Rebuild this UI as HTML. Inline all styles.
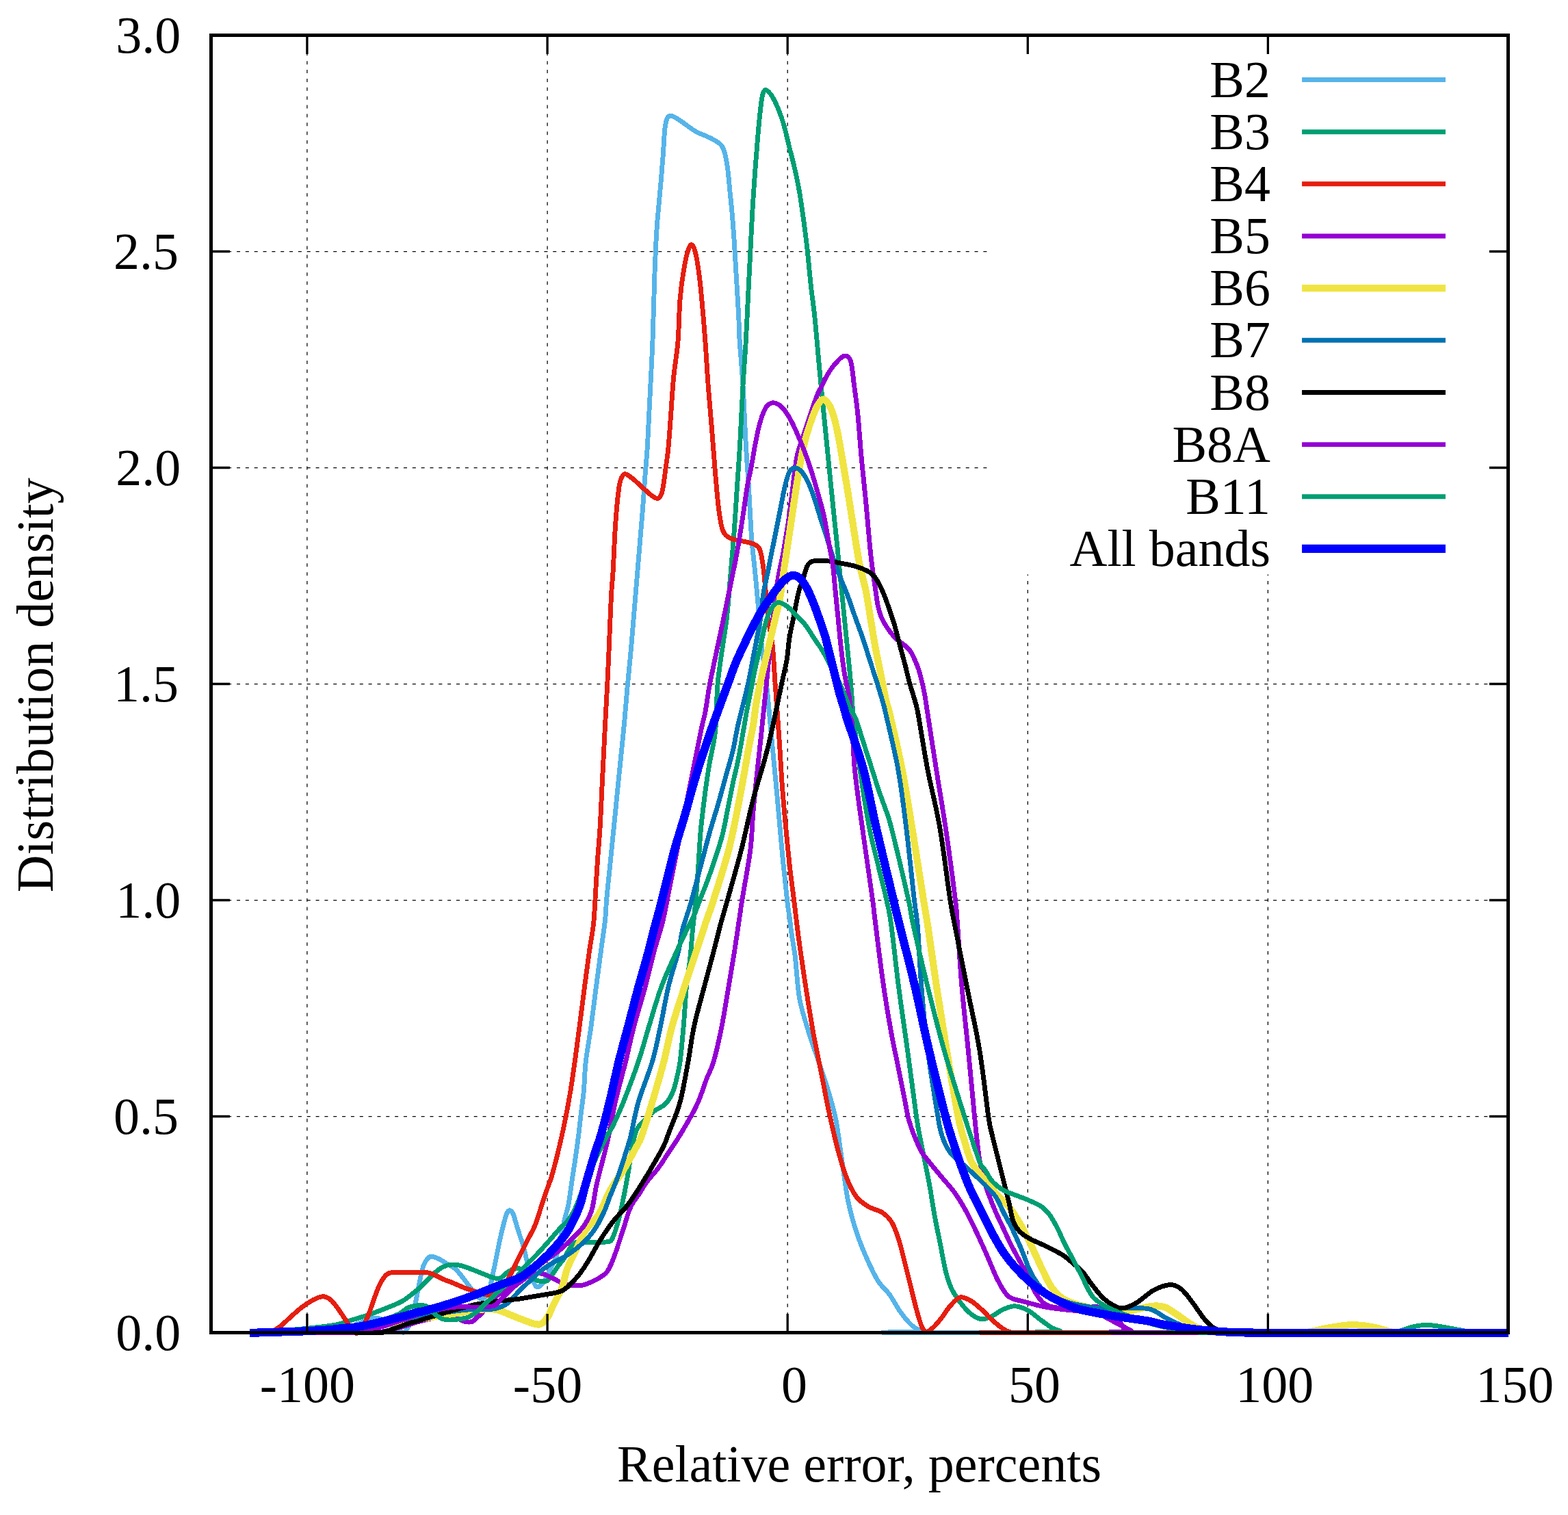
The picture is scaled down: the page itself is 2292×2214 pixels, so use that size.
<!DOCTYPE html>
<html><head><meta charset="utf-8"><title>Distribution density</title>
<style>
html,body{margin:0;padding:0;background:#fff;}
svg{display:block;}
.t{font-family:"Liberation Serif","Times New Roman",serif;font-size:76px;fill:#000;}
</style></head><body>
<svg xmlns="http://www.w3.org/2000/svg" width="2292" height="2214" viewBox="0 0 2292 2214">
<rect width="2292" height="2214" fill="#fff"/>
<path d="M448.9 50.5V1947.5 M800.1 50.5V1947.5 M1151.2 50.5V1947.5 M1502.3 50.5V1947.5 M1853.4 50.5V1947.5" stroke="#000" stroke-width="1.25" stroke-dasharray="5 7.88" fill="none"/>
<path d="M307.5 1631.5H2204.5 M307.5 1315.5H2204.5 M307.5 999.5H2204.5 M307.5 683.5H2204.5 M307.5 367.5H2204.5" stroke="#000" stroke-width="1.25" stroke-dasharray="5 7.84" fill="none"/>
<path d="M365.0 1947.5C382.5 1947.4 447.5 1947.8 470.0 1947.0C492.5 1946.2 490.0 1945.5 500.0 1943.0C510.0 1940.5 521.7 1934.8 530.0 1932.0C538.3 1929.2 543.7 1925.8 550.0 1926.0C556.3 1926.2 562.2 1929.8 568.0 1933.0C573.8 1936.2 581.2 1942.7 585.0 1945.0C588.8 1947.3 589.2 1947.8 591.0 1947.0C592.8 1946.2 594.4 1942.5 596.0 1940.0C597.6 1937.5 598.8 1937.2 600.5 1932.2C602.2 1927.2 604.4 1917.3 606.1 1909.8C607.8 1902.3 609.1 1894.8 610.6 1887.3C612.1 1879.8 613.6 1871.4 615.1 1864.9C616.6 1858.4 617.9 1852.4 619.6 1848.1C621.3 1843.8 623.3 1841.1 625.2 1839.1C627.1 1837.1 628.0 1836.1 630.8 1836.3C633.6 1836.5 638.2 1838.2 642.0 1840.0C645.8 1841.8 649.2 1844.4 653.3 1846.9C657.3 1849.4 661.8 1850.8 666.3 1855.0C670.8 1859.2 676.2 1866.8 680.6 1872.4C685.0 1878.0 689.2 1884.5 692.9 1888.8C696.6 1893.1 700.0 1897.3 703.0 1898.0C706.0 1898.7 708.8 1896.0 711.0 1893.0C713.2 1890.0 715.1 1884.5 716.5 1880.0C717.9 1875.5 718.3 1871.6 719.5 1866.0C720.7 1860.4 722.1 1854.6 723.7 1846.6C725.4 1838.6 727.4 1827.5 729.4 1818.0C731.4 1808.5 734.1 1796.8 736.0 1789.5C737.9 1782.2 739.0 1777.5 740.5 1774.0C742.0 1770.5 743.4 1768.7 745.0 1768.7C746.6 1768.7 748.3 1770.5 750.0 1774.0C751.7 1777.5 753.3 1784.7 755.0 1790.0C756.7 1795.3 758.2 1800.5 760.0 1806.0C761.8 1811.5 763.6 1816.0 765.5 1822.8C767.4 1829.6 769.1 1839.1 771.2 1846.6C773.3 1854.1 775.7 1862.3 777.9 1868.0C780.1 1873.7 781.8 1879.8 784.5 1880.8C787.2 1881.8 790.9 1878.8 794.3 1874.3C797.7 1869.8 801.8 1860.3 804.9 1853.9C808.0 1847.5 810.9 1842.5 813.1 1836.0C815.3 1829.5 816.5 1821.5 818.0 1815.0C819.5 1808.5 820.7 1803.0 822.0 1797.0C823.3 1791.0 824.5 1785.2 826.0 1779.0C827.5 1772.8 829.2 1769.8 831.0 1760.0C832.8 1750.2 835.3 1730.8 836.9 1720.0C838.5 1709.2 839.3 1705.0 840.7 1695.3C842.1 1685.5 844.0 1672.1 845.4 1661.5C846.8 1650.9 847.5 1642.8 848.8 1631.5C850.1 1620.2 852.1 1607.2 853.4 1593.8C854.6 1580.4 854.5 1566.8 856.3 1551.3C858.0 1535.8 861.4 1518.9 863.9 1500.6C866.4 1482.3 869.1 1459.7 871.5 1441.4C873.9 1423.1 876.1 1406.8 878.3 1390.7C880.5 1374.6 883.1 1357.5 884.5 1345.0C885.9 1332.5 885.5 1328.4 886.6 1315.7C887.7 1303.0 889.5 1286.3 891.3 1268.6C893.1 1250.8 895.1 1231.0 897.3 1209.2C899.5 1187.4 902.0 1161.6 904.4 1137.8C906.8 1114.0 909.4 1089.6 911.6 1066.5C913.8 1043.4 915.7 1019.2 917.5 999.4C919.3 979.6 920.9 965.8 922.5 947.6C924.1 929.4 925.8 907.9 927.3 890.0C928.8 872.1 930.1 856.4 931.5 840.2C932.9 824.0 934.1 808.5 935.4 792.6C936.7 776.8 938.2 761.0 939.4 745.1C940.6 729.2 941.6 713.4 942.8 697.5C944.0 681.6 945.3 669.6 946.5 650.0C947.7 630.4 948.8 605.0 950.0 580.0C951.2 555.0 952.7 530.7 953.9 500.0C955.1 469.3 956.0 423.7 957.1 395.8C958.2 367.9 958.8 353.5 960.2 332.4C961.7 311.3 964.3 286.6 965.8 269.0C967.3 251.4 968.2 240.2 969.2 226.8C970.2 213.4 970.8 197.8 971.8 188.7C972.8 179.6 973.9 175.7 975.5 172.5C977.1 169.3 978.8 169.1 981.4 169.3C984.0 169.6 986.8 171.5 990.9 174.0C995.0 176.5 1001.1 181.3 1005.7 184.5C1010.3 187.7 1014.1 190.7 1018.3 193.0C1022.5 195.3 1026.8 196.4 1031.0 198.3C1035.2 200.2 1039.9 202.3 1043.7 204.6C1047.5 206.9 1051.4 208.8 1054.0 212.0C1056.6 215.2 1057.9 218.0 1059.5 224.0C1061.1 230.0 1062.6 238.6 1063.8 247.9C1065.0 257.2 1065.9 269.0 1066.9 279.6C1068.0 290.2 1069.0 299.0 1070.1 311.3C1071.2 323.6 1072.2 337.8 1073.3 353.6C1074.3 369.5 1075.4 388.8 1076.4 406.4C1077.5 424.0 1078.8 443.6 1079.6 459.2C1080.4 474.8 1080.2 482.6 1081.3 500.0C1082.4 517.4 1084.5 538.8 1086.0 563.4C1087.5 588.0 1088.8 623.2 1090.2 647.9C1091.6 672.5 1093.0 688.4 1094.4 711.3C1095.8 734.2 1097.0 764.2 1098.6 785.3C1100.2 806.4 1102.4 822.3 1103.9 838.1C1105.4 853.9 1106.3 863.0 1107.8 880.0C1109.3 897.0 1110.9 920.1 1113.0 940.0C1115.1 959.9 1117.9 975.9 1120.4 999.2C1122.9 1022.5 1125.5 1053.2 1128.0 1080.0C1130.5 1106.8 1133.2 1133.1 1135.7 1160.0C1138.2 1186.9 1140.4 1215.7 1142.9 1241.6C1145.4 1267.5 1148.8 1299.1 1150.6 1315.5C1152.4 1331.9 1152.9 1331.9 1154.0 1340.0C1155.1 1348.1 1155.6 1354.1 1157.0 1364.0C1158.4 1373.9 1160.5 1383.5 1162.4 1399.2C1164.3 1414.9 1165.5 1441.0 1168.5 1458.3C1171.5 1475.5 1175.9 1487.9 1180.3 1502.7C1184.7 1517.5 1190.2 1532.3 1195.1 1547.1C1200.0 1561.9 1205.5 1576.7 1209.9 1591.5C1214.3 1606.3 1218.2 1618.7 1221.7 1635.9C1225.2 1653.2 1227.6 1675.3 1230.6 1695.0C1233.6 1714.7 1236.0 1736.9 1239.5 1754.2C1243.0 1771.5 1246.9 1784.8 1251.3 1798.6C1255.7 1812.4 1260.7 1824.7 1266.1 1837.0C1271.5 1849.3 1278.1 1863.4 1283.8 1872.5C1289.5 1881.6 1294.7 1884.0 1300.0 1891.4C1305.3 1898.8 1310.5 1909.3 1315.8 1916.7C1321.1 1924.1 1326.7 1931.0 1331.7 1935.8C1336.7 1940.6 1342.1 1943.3 1346.0 1945.3C1349.9 1947.2 1211.9 1947.1 1355.0 1947.5C1498.1 1947.9 2062.9 1947.5 2204.5 1947.5" stroke="#56b4e9" stroke-width="6.9" fill="none" stroke-linejoin="round" stroke-linecap="butt" shape-rendering="crispEdges"/>
<path d="M365.0 1947.5C374.2 1946.9 399.6 1945.8 420.0 1944.0C440.4 1942.2 472.6 1938.9 487.1 1936.7C501.7 1934.5 500.2 1933.1 507.3 1931.1C514.4 1929.0 522.3 1926.8 529.8 1924.4C537.3 1922.0 544.7 1919.3 552.2 1916.5C559.7 1913.7 568.5 1910.2 574.7 1907.6C580.9 1905.0 584.6 1903.6 589.3 1900.8C594.0 1898.0 598.7 1893.9 602.8 1890.7C606.9 1887.5 610.3 1885.1 614.0 1881.7C617.7 1878.3 621.5 1874.2 625.2 1870.5C628.9 1866.8 632.6 1862.5 636.4 1859.3C640.1 1856.1 643.8 1853.3 647.7 1851.4C651.6 1849.5 655.7 1848.4 660.0 1848.1C664.3 1847.8 668.7 1848.4 673.3 1849.4C677.9 1850.4 682.0 1852.1 687.5 1854.2C693.0 1856.3 700.9 1859.6 706.6 1861.8C712.4 1864.0 717.9 1866.5 722.0 1867.5C726.1 1868.5 728.0 1869.1 731.0 1868.0C734.0 1866.9 736.8 1863.0 739.8 1860.8C742.8 1858.6 745.8 1856.2 749.3 1855.1C752.8 1854.0 757.3 1853.4 760.8 1854.2C764.2 1855.0 766.7 1857.5 770.0 1860.0C773.3 1862.5 777.0 1867.3 780.7 1869.4C784.4 1871.5 788.9 1872.4 792.1 1872.7C795.3 1873.0 797.5 1873.0 800.0 1871.5C802.5 1870.0 804.4 1866.9 806.9 1863.4C809.4 1859.9 812.5 1854.6 815.3 1850.7C818.1 1846.8 821.0 1844.3 823.8 1840.1C826.6 1835.9 829.8 1829.1 832.2 1825.3C834.6 1821.5 836.2 1819.1 838.0 1817.5C839.8 1815.9 839.3 1815.8 843.0 1815.5C846.7 1815.2 853.8 1815.4 860.0 1815.4C866.2 1815.4 874.7 1815.6 880.0 1815.4C885.3 1815.2 889.1 1814.9 891.6 1814.0C894.1 1813.1 893.8 1812.2 895.0 1810.0C896.2 1807.8 897.3 1805.0 898.8 1800.8C900.2 1796.5 902.4 1789.3 903.7 1784.5C905.1 1779.7 906.0 1776.3 906.9 1772.2C907.8 1768.1 908.3 1765.4 909.4 1760.0C910.5 1754.6 912.1 1747.5 913.5 1740.0C914.9 1732.5 916.6 1723.3 918.0 1715.0C919.4 1706.7 920.6 1698.3 922.0 1690.0C923.4 1681.7 924.9 1671.8 926.5 1665.0C928.1 1658.2 929.0 1653.9 931.5 1649.3C934.0 1644.7 938.3 1641.1 941.7 1637.4C945.1 1633.7 949.0 1629.8 951.8 1627.3C954.6 1624.8 955.2 1624.5 958.6 1622.2C962.0 1620.0 968.4 1617.2 972.1 1613.8C975.8 1610.4 978.4 1606.0 980.6 1602.0C982.8 1598.0 984.1 1594.2 985.5 1590.0C986.9 1585.8 987.6 1583.0 989.0 1576.6C990.4 1570.1 992.4 1564.0 994.1 1551.3C995.8 1538.6 997.5 1518.9 999.1 1500.6C1000.7 1482.3 1001.9 1458.2 1003.5 1441.4C1005.1 1424.6 1007.3 1413.8 1008.8 1400.0C1010.3 1386.2 1011.1 1372.7 1012.5 1358.6C1013.9 1344.5 1015.7 1330.3 1017.0 1315.5C1018.3 1300.7 1019.4 1285.9 1020.5 1270.0C1021.6 1254.1 1022.7 1233.0 1023.7 1220.0C1024.7 1207.0 1025.3 1203.1 1026.6 1192.1C1027.9 1181.1 1029.6 1166.8 1031.3 1154.1C1033.0 1141.4 1034.6 1130.3 1037.0 1116.0C1039.4 1101.7 1043.6 1088.0 1045.6 1068.5C1047.6 1049.0 1047.2 1020.6 1049.1 999.2C1051.0 977.8 1054.7 956.5 1057.0 940.0C1059.3 923.5 1060.9 917.0 1062.7 900.0C1064.5 883.0 1066.2 859.0 1068.0 838.1C1069.8 817.2 1071.7 795.8 1073.3 774.7C1074.9 753.6 1076.1 732.4 1077.5 711.3C1078.9 690.2 1080.3 672.5 1081.7 647.9C1083.1 623.2 1084.6 588.0 1086.0 563.4C1087.4 538.8 1089.0 520.9 1090.2 500.0C1091.4 479.1 1092.2 459.0 1093.3 438.1C1094.3 417.2 1095.4 395.8 1096.5 374.7C1097.6 353.6 1098.5 332.4 1099.7 311.3C1100.9 290.2 1102.5 267.3 1103.9 247.9C1105.3 228.5 1106.7 210.9 1108.1 195.1C1109.5 179.2 1111.2 162.7 1112.4 152.8C1113.6 143.0 1114.3 139.5 1115.5 136.0C1116.7 132.5 1117.7 131.0 1119.8 131.7C1121.9 132.4 1125.4 135.9 1128.2 140.1C1131.0 144.3 1133.9 150.3 1136.7 157.0C1139.5 163.7 1142.3 170.8 1145.1 180.3C1147.9 189.8 1150.8 202.8 1153.6 214.1C1156.4 225.4 1159.5 237.0 1162.0 247.9C1164.5 258.8 1166.3 267.3 1168.4 279.6C1170.5 291.9 1172.8 307.8 1174.7 321.9C1176.6 336.0 1178.2 348.2 1180.0 364.1C1181.8 380.0 1183.5 401.1 1185.3 417.0C1187.0 432.9 1189.0 445.4 1190.5 459.2C1192.0 473.0 1192.7 482.6 1194.3 500.0C1195.9 517.4 1198.1 542.3 1200.1 563.4C1202.1 584.5 1204.3 605.7 1206.4 626.8C1208.5 647.9 1210.6 669.1 1212.7 690.2C1214.8 711.3 1217.2 735.3 1219.1 753.6C1221.0 771.9 1222.8 787.9 1224.0 800.0C1225.2 812.1 1225.5 815.4 1226.6 826.4C1227.7 837.4 1229.3 852.8 1230.6 866.0C1231.9 879.2 1233.2 892.5 1234.5 905.7C1235.8 918.9 1237.2 932.1 1238.5 945.3C1239.8 958.5 1241.3 972.8 1242.4 984.9C1243.5 997.0 1244.2 1007.0 1245.1 1017.9C1246.0 1028.8 1245.7 1032.2 1247.7 1050.0C1249.7 1067.8 1253.2 1098.0 1257.0 1124.5C1260.8 1151.0 1266.3 1186.1 1270.6 1209.0C1274.9 1231.9 1278.8 1244.2 1283.0 1262.0C1287.2 1279.8 1292.7 1300.8 1295.9 1315.5C1299.2 1330.2 1299.5 1328.8 1302.5 1350.0C1305.5 1371.2 1309.6 1411.6 1313.6 1442.4C1317.6 1473.2 1322.2 1503.3 1326.5 1534.8C1330.8 1566.3 1336.5 1610.4 1339.5 1631.3C1342.5 1652.2 1342.5 1649.9 1344.4 1660.0C1346.3 1670.1 1348.3 1679.8 1350.7 1691.7C1353.1 1703.6 1355.9 1716.8 1358.6 1731.3C1361.2 1745.8 1363.9 1764.4 1366.6 1778.9C1369.2 1793.4 1371.9 1805.3 1374.5 1818.5C1377.1 1831.7 1379.8 1847.5 1382.4 1858.1C1385.0 1868.7 1386.9 1874.5 1390.3 1881.9C1393.7 1889.3 1398.2 1896.2 1403.0 1902.5C1407.8 1908.8 1413.6 1915.7 1418.9 1919.9C1424.2 1924.1 1429.4 1927.3 1434.7 1927.8C1440.0 1928.3 1445.3 1925.5 1450.6 1923.1C1455.9 1920.7 1460.9 1916.0 1466.4 1913.6C1471.9 1911.2 1477.7 1908.5 1483.8 1908.8C1489.9 1909.1 1496.6 1911.8 1502.9 1915.2C1509.2 1918.6 1516.1 1925.2 1521.9 1929.4C1527.7 1933.6 1533.0 1937.8 1537.7 1940.5C1542.5 1943.2 1545.9 1944.1 1550.4 1945.3C1555.0 1946.5 1456.0 1947.1 1565.0 1947.5C1674.0 1947.9 2097.9 1947.5 2204.5 1947.5" stroke="#009e73" stroke-width="6.9" fill="none" stroke-linejoin="round" stroke-linecap="butt" shape-rendering="crispEdges"/>
<path d="M365.0 1947.5C370.0 1947.2 387.7 1947.5 395.0 1946.0C402.3 1944.5 403.9 1942.5 409.0 1938.8C414.1 1935.1 419.9 1928.9 425.3 1924.1C430.7 1919.3 436.2 1914.3 441.6 1910.2C447.1 1906.1 453.0 1902.2 458.0 1899.6C463.0 1897.0 467.7 1894.8 471.8 1894.7C475.9 1894.6 479.3 1896.6 482.4 1898.8C485.5 1901.0 487.9 1904.4 490.6 1907.8C493.3 1911.2 496.4 1915.7 498.8 1919.2C501.2 1922.7 503.2 1925.9 505.3 1929.0C507.4 1932.1 508.9 1934.8 511.5 1938.0C514.1 1941.2 517.7 1948.2 520.8 1948.5C523.9 1948.8 527.0 1944.6 530.0 1940.0C533.0 1935.4 536.0 1927.9 538.8 1921.0C541.6 1914.1 544.0 1905.7 546.6 1898.6C549.2 1891.5 552.1 1883.7 554.5 1878.4C556.9 1873.2 558.8 1870.1 561.2 1867.1C563.6 1864.1 565.0 1861.7 569.1 1860.4C573.2 1859.1 579.4 1859.5 585.9 1859.3C592.4 1859.1 601.8 1859.2 608.4 1859.3C615.0 1859.4 620.5 1859.0 625.2 1859.8C629.9 1860.5 632.6 1862.2 636.4 1863.8C640.1 1865.4 643.8 1867.7 647.7 1869.4C651.6 1871.1 655.0 1872.0 660.0 1874.0C665.0 1876.0 672.6 1879.6 678.0 1881.7C683.4 1883.8 687.5 1884.9 692.3 1886.5C697.1 1888.1 702.0 1890.3 706.6 1891.2C711.2 1892.1 715.6 1893.2 720.0 1892.0C724.4 1890.8 728.9 1888.4 733.0 1884.0C737.1 1879.6 741.1 1871.8 744.6 1865.6C748.1 1859.4 750.9 1852.9 754.1 1846.6C757.3 1840.2 760.4 1833.8 763.6 1827.5C766.8 1821.2 769.9 1814.8 773.1 1808.5C776.3 1802.2 779.2 1798.2 782.6 1789.5C786.0 1780.8 790.4 1765.2 793.3 1756.4C796.2 1747.7 797.9 1743.1 800.0 1737.0C802.1 1730.9 804.0 1727.0 806.1 1720.0C808.2 1713.0 810.3 1705.0 812.8 1695.3C815.3 1685.5 818.5 1672.1 820.9 1661.5C823.3 1650.9 825.0 1642.8 827.2 1631.5C829.4 1620.2 831.8 1607.2 834.0 1593.8C836.2 1580.4 838.1 1566.8 840.3 1551.3C842.5 1535.8 844.6 1518.9 847.0 1500.6C849.4 1482.3 852.2 1459.7 854.6 1441.4C857.0 1423.1 859.2 1405.9 861.4 1390.7C863.6 1375.5 866.2 1362.5 867.6 1350.0C869.0 1337.5 868.9 1331.2 869.9 1315.7C870.9 1300.2 872.3 1274.5 873.5 1256.7C874.7 1239.0 875.9 1229.0 877.1 1209.2C878.3 1189.4 879.4 1161.6 880.6 1137.8C881.8 1114.0 883.0 1089.6 884.2 1066.5C885.4 1043.4 886.8 1019.2 887.8 999.4C888.8 979.6 889.3 968.9 890.2 947.6C891.1 926.4 892.5 889.8 893.4 871.9C894.3 854.0 895.1 850.8 895.8 840.2C896.5 829.6 896.9 819.1 897.4 808.5C897.9 797.9 898.4 787.4 899.0 776.8C899.6 766.2 900.5 754.4 901.3 745.1C902.1 735.9 902.8 728.4 903.7 721.3C904.6 714.2 905.3 707.0 906.9 702.3C908.5 697.5 910.3 693.3 913.2 692.8C916.1 692.3 919.8 695.7 924.3 699.1C928.8 702.5 935.4 709.2 940.2 713.4C945.0 717.6 949.3 722.0 952.9 724.5C956.5 727.0 959.2 728.9 961.6 728.4C964.0 727.9 965.7 725.1 967.1 721.3C968.5 717.5 969.2 712.1 970.3 705.5C971.3 698.9 972.3 689.6 973.4 681.7C974.5 673.8 975.5 669.0 976.6 657.9C977.7 646.8 978.7 632.5 980.0 615.0C981.3 597.5 982.7 572.0 984.5 552.8C986.3 533.6 989.3 519.1 990.9 500.0C992.5 480.9 992.6 455.5 994.0 438.1C995.4 420.7 997.3 407.8 999.3 395.8C1001.2 383.8 1003.7 372.5 1005.7 366.2C1007.7 359.9 1009.5 356.7 1011.4 357.8C1013.3 358.9 1015.4 364.5 1017.3 372.6C1019.2 380.7 1021.0 393.7 1022.6 406.4C1024.2 419.1 1025.4 433.1 1026.8 448.7C1028.2 464.3 1029.6 480.9 1031.0 500.0C1032.4 519.1 1033.6 542.3 1035.2 563.4C1036.8 584.5 1038.8 605.7 1040.5 626.8C1042.2 647.9 1043.8 670.8 1045.5 690.2C1047.2 709.6 1048.7 728.9 1050.5 743.0C1052.3 757.1 1053.7 767.5 1056.4 774.7C1059.1 781.9 1062.3 783.7 1066.9 786.3C1071.5 788.9 1078.2 789.1 1083.8 790.5C1089.4 791.9 1096.3 792.8 1100.7 794.8C1105.1 796.8 1107.8 796.8 1110.3 802.2C1112.8 807.7 1113.9 816.2 1115.5 827.5C1117.1 838.8 1118.5 856.9 1119.8 869.8C1121.0 882.7 1121.4 892.7 1123.0 905.0C1124.6 917.3 1127.5 927.7 1129.2 943.4C1130.9 959.1 1131.5 976.4 1133.1 999.2C1134.7 1022.0 1137.3 1054.9 1139.0 1080.0C1140.7 1105.1 1141.9 1128.8 1143.5 1150.0C1145.1 1171.2 1146.7 1188.1 1148.5 1207.1C1150.3 1226.1 1152.2 1246.1 1154.2 1264.2C1156.2 1282.3 1158.6 1299.5 1160.6 1315.5C1162.6 1331.5 1164.2 1346.0 1166.0 1360.0C1167.8 1374.0 1169.0 1382.8 1171.4 1399.2C1173.8 1415.6 1177.3 1439.6 1180.3 1458.3C1183.3 1477.0 1185.8 1492.8 1189.2 1511.6C1192.7 1530.3 1197.1 1551.1 1201.0 1570.8C1204.9 1590.5 1208.8 1611.7 1212.8 1629.9C1216.8 1648.1 1220.8 1665.4 1224.7 1680.2C1228.7 1695.0 1232.1 1707.4 1236.5 1718.7C1240.9 1730.0 1245.9 1740.9 1251.3 1748.3C1256.7 1755.7 1262.6 1759.1 1269.0 1763.1C1275.4 1767.0 1284.3 1768.5 1289.8 1772.0C1295.3 1775.5 1298.8 1779.7 1302.0 1784.0C1305.2 1788.3 1306.7 1792.2 1309.0 1798.0C1311.3 1803.8 1313.3 1809.8 1315.8 1818.5C1318.3 1827.2 1321.1 1839.6 1323.8 1850.2C1326.5 1860.8 1329.1 1871.3 1331.7 1881.9C1334.3 1892.5 1337.0 1904.1 1339.6 1913.6C1342.2 1923.1 1345.1 1933.5 1347.5 1938.9C1349.9 1944.3 1351.2 1945.7 1353.9 1946.0C1356.6 1946.3 1359.7 1943.8 1363.4 1940.5C1367.1 1937.2 1371.9 1931.5 1376.1 1926.2C1380.3 1920.9 1384.2 1913.8 1388.7 1908.8C1393.2 1903.8 1398.0 1897.4 1403.0 1896.1C1408.0 1894.8 1413.6 1898.0 1418.9 1900.9C1424.2 1903.8 1429.4 1908.8 1434.7 1913.6C1440.0 1918.3 1445.3 1924.7 1450.6 1929.4C1455.9 1934.2 1462.2 1939.2 1466.4 1942.1C1470.6 1944.9 1472.1 1945.6 1476.0 1946.5C1479.9 1947.4 1368.6 1947.3 1490.0 1947.5C1611.4 1947.7 2085.4 1947.5 2204.5 1947.5" stroke="#e51e10" stroke-width="6.9" fill="none" stroke-linejoin="round" stroke-linecap="butt" shape-rendering="crispEdges"/>
<path d="M365.0 1947.5C394.2 1947.4 504.2 1948.1 540.0 1947.0C575.8 1945.9 568.3 1943.5 580.0 1941.0C591.7 1938.5 599.7 1934.8 610.0 1932.0C620.3 1929.2 633.7 1925.9 642.0 1924.4C650.3 1923.0 654.0 1922.2 660.0 1923.3C666.0 1924.4 673.0 1929.6 678.0 1931.0C683.0 1932.4 686.8 1932.4 690.0 1931.5C693.2 1930.6 694.7 1927.4 697.0 1925.5C699.3 1923.6 701.9 1922.4 703.9 1920.0C705.9 1917.6 707.0 1914.2 709.0 1911.0C711.0 1907.8 712.9 1903.7 716.1 1900.6C719.3 1897.5 724.4 1895.2 728.4 1892.4C732.4 1889.6 734.7 1887.7 740.0 1884.0C745.3 1880.3 753.7 1873.7 760.0 1870.0C766.3 1866.3 772.5 1863.4 778.0 1862.0C783.5 1860.6 787.5 1860.4 792.7 1861.5C797.9 1862.6 804.6 1866.6 809.0 1868.6C813.4 1870.6 815.4 1872.0 818.8 1873.5C822.2 1875.0 824.2 1876.8 829.4 1877.6C834.6 1878.4 843.7 1879.2 849.8 1878.4C855.9 1877.6 861.3 1874.8 866.1 1872.7C870.9 1870.7 875.0 1868.3 878.4 1866.1C881.8 1863.9 884.2 1862.3 886.5 1859.6C888.8 1856.9 890.2 1854.1 892.2 1849.8C894.2 1845.5 896.3 1840.3 898.8 1833.5C901.3 1826.7 904.5 1816.5 907.0 1809.0C909.5 1801.5 911.3 1795.4 913.5 1788.6C915.7 1781.8 917.9 1773.6 920.0 1768.2C922.1 1762.8 923.6 1760.3 926.0 1756.4C928.4 1752.5 930.9 1749.9 934.2 1745.0C937.5 1740.1 941.0 1733.3 945.6 1727.0C950.2 1720.7 956.5 1714.7 962.0 1707.3C967.5 1699.9 973.4 1690.2 978.4 1682.7C983.4 1675.2 987.6 1669.1 992.0 1662.0C996.4 1654.9 1001.2 1646.7 1005.0 1640.0C1008.8 1633.3 1012.0 1627.8 1015.0 1622.0C1018.0 1616.2 1019.8 1612.6 1022.8 1605.0C1025.8 1597.4 1029.5 1585.5 1032.9 1576.6C1036.3 1567.6 1039.4 1564.0 1043.1 1551.3C1046.8 1538.6 1051.2 1518.9 1054.9 1500.6C1058.6 1482.3 1062.0 1459.7 1065.1 1441.4C1068.2 1423.1 1070.8 1407.6 1073.5 1390.7C1076.2 1373.8 1079.2 1352.5 1081.1 1340.0C1083.0 1327.5 1082.1 1331.9 1084.7 1315.5C1087.3 1299.1 1094.1 1264.2 1096.9 1241.6C1099.7 1219.0 1099.0 1206.9 1101.5 1180.0C1104.0 1153.1 1108.8 1110.1 1112.0 1080.0C1115.2 1049.9 1118.1 1022.5 1120.4 999.2C1122.7 975.9 1124.3 956.5 1126.0 940.0C1127.7 923.5 1128.5 915.2 1130.3 900.0C1132.1 884.8 1134.2 864.3 1136.7 848.7C1139.2 833.1 1142.3 822.2 1145.1 806.4C1147.9 790.5 1151.1 771.3 1153.6 753.6C1156.1 735.9 1158.5 714.1 1160.3 700.0C1162.1 685.9 1163.1 676.9 1164.5 669.1C1165.9 661.3 1167.1 658.6 1168.7 653.3C1170.3 648.0 1172.2 642.7 1174.0 637.4C1175.8 632.1 1177.5 626.9 1179.3 621.6C1181.1 616.3 1182.8 611.0 1184.6 605.7C1186.4 600.4 1188.2 594.8 1189.9 589.9C1191.7 585.0 1193.2 580.5 1195.1 576.1C1197.0 571.7 1199.4 567.6 1201.5 563.4C1203.6 559.2 1205.7 554.6 1207.8 550.7C1209.9 546.8 1211.9 543.5 1214.2 540.2C1216.5 536.9 1218.3 534.1 1221.6 530.7C1224.9 527.4 1230.4 520.6 1234.0 520.1C1237.6 519.6 1241.0 520.3 1243.4 527.5C1245.8 534.7 1246.8 550.4 1248.6 563.4C1250.3 576.4 1252.1 588.1 1253.9 605.7C1255.7 623.3 1257.2 647.9 1259.2 669.0C1261.2 690.1 1263.5 710.6 1265.6 732.4C1267.7 754.2 1270.0 783.2 1271.7 800.0C1273.4 816.8 1274.2 823.1 1275.5 833.0C1276.8 842.9 1278.1 850.6 1279.4 859.4C1280.7 868.2 1281.9 878.5 1283.4 885.8C1285.0 893.1 1286.3 897.5 1288.7 903.0C1291.1 908.5 1294.6 914.0 1297.9 918.9C1301.2 923.8 1304.5 928.1 1308.5 932.1C1312.5 936.1 1318.0 939.3 1321.7 942.6C1325.4 945.9 1328.3 948.1 1330.9 951.9C1333.5 955.6 1335.5 960.7 1337.5 965.1C1339.5 969.5 1341.0 972.8 1342.8 978.3C1344.6 983.8 1346.5 991.5 1348.1 998.1C1349.6 1004.7 1350.9 1010.9 1352.1 1017.9C1353.3 1024.9 1352.8 1022.2 1355.5 1040.0C1358.2 1057.8 1364.2 1096.3 1368.6 1124.5C1373.0 1152.7 1377.4 1177.2 1382.1 1209.0C1386.8 1240.8 1393.6 1292.0 1396.5 1315.5C1399.4 1339.0 1397.9 1328.8 1399.5 1350.0C1401.1 1371.2 1403.4 1411.6 1406.0 1442.4C1408.6 1473.2 1412.2 1503.3 1415.3 1534.8C1418.4 1566.3 1422.4 1609.6 1424.5 1631.3C1426.6 1653.0 1426.8 1654.4 1428.0 1665.0C1429.2 1675.6 1430.2 1685.3 1431.9 1695.0C1433.6 1704.7 1435.6 1714.7 1437.9 1723.4C1440.2 1732.1 1442.9 1739.3 1445.8 1747.2C1448.7 1755.1 1451.9 1763.0 1455.3 1770.9C1458.7 1778.8 1462.7 1786.8 1466.4 1794.7C1470.1 1802.6 1473.5 1810.6 1477.5 1818.5C1481.5 1826.4 1486.0 1834.4 1490.2 1842.3C1494.4 1850.2 1499.0 1858.1 1502.9 1866.0C1506.9 1873.9 1510.0 1883.3 1513.9 1889.8C1517.9 1896.3 1521.4 1901.5 1526.6 1905.0C1531.8 1908.5 1536.1 1910.2 1545.0 1911.0C1553.9 1911.8 1568.8 1909.5 1580.0 1909.5C1591.2 1909.5 1604.0 1908.9 1612.0 1911.0C1620.0 1913.1 1623.0 1917.5 1628.0 1922.0C1633.0 1926.5 1637.5 1934.0 1642.0 1938.0C1646.5 1942.0 1650.3 1944.4 1655.0 1946.0C1659.7 1947.6 1578.4 1947.2 1670.0 1947.5C1761.6 1947.8 2115.4 1947.5 2204.5 1947.5" stroke="#9400d3" stroke-width="6.9" fill="none" stroke-linejoin="round" stroke-linecap="butt" shape-rendering="crispEdges"/>
<path d="M365.0 1947.5C387.5 1946.9 465.0 1946.4 500.0 1944.0C535.0 1941.6 550.0 1936.7 575.0 1933.0C600.0 1929.3 629.2 1925.2 650.0 1922.0C670.8 1918.8 687.4 1915.3 700.0 1914.0C712.6 1912.7 718.2 1912.8 725.6 1914.0C733.0 1915.2 738.3 1918.6 744.6 1921.0C750.9 1923.4 757.3 1926.2 763.6 1928.5C769.9 1930.8 777.9 1934.1 782.6 1935.0C787.4 1935.9 788.9 1936.0 792.1 1934.0C795.3 1932.0 799.1 1926.8 801.6 1923.0C804.1 1919.2 805.1 1915.0 807.0 1911.0C808.9 1907.0 810.7 1903.6 813.1 1898.8C815.5 1894.0 819.2 1887.5 821.2 1882.4C823.2 1877.3 824.1 1872.4 825.3 1868.0C826.5 1863.6 827.0 1860.2 828.5 1856.0C830.0 1851.8 832.0 1847.4 834.0 1843.0C836.0 1838.6 838.8 1833.8 840.7 1829.6C842.7 1825.4 844.3 1821.2 845.7 1818.0C847.1 1814.8 847.9 1813.1 849.1 1810.6C850.3 1808.1 851.5 1805.6 853.0 1803.0C854.5 1800.4 855.8 1797.9 858.0 1795.1C860.2 1792.3 863.3 1789.1 866.0 1786.0C868.7 1782.9 871.8 1780.0 874.3 1776.3C876.8 1772.6 878.5 1769.0 880.8 1764.1C883.1 1759.2 885.4 1752.4 888.0 1747.0C890.6 1741.6 892.4 1738.5 896.5 1731.9C900.6 1725.3 907.4 1716.3 912.9 1707.3C918.4 1698.3 925.0 1685.7 929.2 1677.8C933.4 1669.9 934.0 1671.2 938.0 1660.0C942.0 1648.8 948.1 1628.5 953.5 1610.4C958.9 1592.3 965.6 1569.6 970.4 1551.3C975.2 1533.0 977.1 1518.9 982.2 1500.6C987.3 1482.3 994.9 1459.7 1000.8 1441.4C1006.7 1423.1 1012.7 1405.9 1017.7 1390.7C1022.7 1375.5 1026.8 1362.5 1031.0 1350.0C1035.2 1337.5 1037.2 1333.6 1042.9 1315.5C1048.6 1297.4 1059.0 1265.8 1065.3 1241.6C1071.6 1217.3 1075.5 1195.3 1080.5 1170.0C1085.5 1144.7 1091.6 1108.3 1095.0 1090.0C1098.4 1071.7 1099.3 1070.2 1101.0 1060.0C1102.7 1049.8 1103.3 1040.4 1105.2 1029.1C1107.1 1017.8 1110.1 1003.5 1112.6 992.1C1115.1 980.7 1117.5 971.0 1120.0 960.4C1122.5 949.8 1124.9 939.3 1127.4 928.7C1129.9 918.1 1132.7 906.0 1134.8 897.0C1136.9 888.0 1138.3 884.8 1140.0 875.0C1141.7 865.2 1143.2 851.3 1145.1 838.1C1147.0 824.9 1149.4 809.9 1151.5 795.8C1153.6 781.7 1155.7 767.7 1157.8 753.6C1159.9 739.5 1162.0 724.7 1164.1 711.3C1166.2 697.9 1168.4 684.6 1170.5 673.3C1172.6 662.0 1174.3 653.2 1176.8 643.7C1179.3 634.2 1182.5 624.3 1185.3 616.2C1188.1 608.1 1190.7 600.6 1193.7 595.1C1196.7 589.6 1200.0 583.9 1203.2 583.5C1206.4 583.1 1210.1 588.6 1212.7 593.0C1215.3 597.4 1217.0 602.5 1219.1 609.9C1221.2 617.3 1223.3 626.7 1225.4 637.3C1227.5 647.9 1229.6 661.0 1231.7 673.3C1233.8 685.6 1235.6 696.2 1238.1 711.3C1240.6 726.4 1243.7 746.5 1246.5 764.1C1249.3 781.7 1252.8 804.4 1255.0 817.0C1257.2 829.6 1258.1 831.8 1260.0 840.0C1261.9 848.2 1264.1 855.0 1266.2 866.0C1268.3 877.0 1270.6 892.5 1272.8 905.7C1275.0 918.9 1277.0 932.1 1279.4 945.3C1281.8 958.5 1284.8 971.7 1287.4 984.9C1290.1 998.1 1293.0 1014.5 1295.3 1024.5C1297.6 1034.5 1297.1 1028.3 1301.0 1045.0C1304.9 1061.7 1313.4 1097.2 1318.7 1124.5C1324.0 1151.8 1327.9 1177.2 1333.1 1209.0C1338.3 1240.8 1346.1 1291.2 1350.0 1315.5C1353.9 1339.8 1353.3 1333.8 1356.5 1355.0C1359.7 1376.2 1364.5 1412.4 1369.1 1442.4C1373.6 1472.4 1378.6 1503.3 1383.8 1534.8C1389.0 1566.3 1396.1 1609.1 1400.5 1631.3C1404.9 1653.5 1406.6 1656.5 1410.0 1668.0C1413.4 1679.5 1415.6 1690.0 1421.0 1700.0C1426.4 1710.0 1436.3 1720.2 1442.6 1728.1C1448.8 1736.0 1453.2 1741.4 1458.5 1747.2C1463.8 1753.0 1469.0 1756.4 1474.3 1763.0C1479.6 1769.6 1485.4 1778.9 1490.2 1786.8C1495.0 1794.7 1499.0 1802.7 1502.9 1810.6C1506.9 1818.5 1510.2 1826.4 1513.9 1834.3C1517.6 1842.2 1521.0 1850.2 1525.0 1858.1C1529.0 1866.0 1532.9 1875.3 1537.7 1881.9C1542.5 1888.5 1547.0 1893.5 1553.6 1897.7C1560.2 1901.9 1567.9 1904.5 1577.3 1907.2C1586.7 1909.9 1598.7 1912.5 1610.0 1914.0C1621.3 1915.5 1636.7 1916.6 1645.3 1916.5C1653.9 1916.4 1654.8 1914.8 1661.6 1913.5C1668.4 1912.2 1679.3 1909.1 1686.1 1908.6C1692.9 1908.0 1697.0 1908.3 1702.4 1910.2C1707.9 1912.1 1713.3 1916.5 1718.8 1920.0C1724.2 1923.5 1729.6 1927.9 1735.1 1931.4C1740.6 1934.9 1745.3 1938.5 1752.0 1941.0C1758.7 1943.5 1767.0 1945.4 1775.0 1946.5C1783.0 1947.6 1779.2 1947.3 1800.0 1947.5C1820.8 1947.7 1880.8 1947.8 1900.0 1947.5C1919.2 1947.2 1907.5 1947.2 1915.0 1946.0C1922.5 1944.8 1934.9 1941.6 1945.0 1940.0C1955.1 1938.4 1965.4 1936.4 1975.4 1936.2C1985.4 1936.0 1995.5 1937.4 2005.0 1939.0C2014.5 1940.6 2025.9 1944.6 2032.6 1946.0C2039.3 1947.4 2016.3 1947.2 2045.0 1947.5C2073.7 1947.8 2177.9 1947.5 2204.5 1947.5" stroke="#f0e442" stroke-width="10.1" fill="none" stroke-linejoin="round" stroke-linecap="butt" shape-rendering="crispEdges"/>
<path d="M365.0 1947.5C379.2 1947.2 419.2 1947.4 450.0 1945.5C480.8 1943.6 521.7 1939.8 550.0 1936.0C578.3 1932.2 597.9 1926.7 620.0 1923.0C642.1 1919.3 666.0 1915.8 682.8 1914.1C699.6 1912.4 711.3 1914.3 720.8 1913.0C730.3 1911.7 735.2 1908.7 740.0 1906.0C744.8 1903.3 746.0 1900.4 749.3 1897.0C752.6 1893.6 755.5 1890.2 760.0 1885.7C764.5 1881.2 770.8 1875.2 776.3 1870.2C781.8 1865.2 787.2 1859.7 792.7 1855.5C798.2 1851.3 803.6 1848.0 809.0 1844.9C814.4 1841.8 819.9 1840.0 825.3 1836.7C830.7 1833.4 836.1 1829.7 841.6 1825.3C847.1 1820.9 853.2 1815.6 858.0 1810.6C862.8 1805.6 866.8 1800.1 870.2 1795.1C873.6 1790.1 876.0 1785.2 878.4 1780.4C880.8 1775.6 882.8 1771.6 884.9 1766.5C887.0 1761.4 887.7 1758.5 891.0 1750.0C894.3 1741.5 900.2 1728.1 904.7 1715.5C909.2 1702.9 914.9 1683.8 917.8 1674.6C920.7 1665.3 919.4 1670.7 922.0 1660.0C924.6 1649.3 928.0 1628.5 933.2 1610.4C938.5 1592.3 948.1 1569.6 953.5 1551.3C958.9 1533.0 961.3 1518.9 965.3 1500.6C969.2 1482.3 972.8 1459.7 977.2 1441.4C981.6 1423.1 988.1 1404.5 991.5 1390.7C994.9 1376.9 995.6 1367.4 997.7 1358.6C999.8 1349.8 1001.8 1345.2 1004.0 1338.0C1006.2 1330.8 1006.6 1331.6 1011.0 1315.5C1015.4 1299.4 1025.9 1259.0 1030.6 1241.6C1035.2 1224.2 1035.6 1222.5 1038.9 1211.1C1042.2 1199.7 1046.7 1185.8 1050.3 1173.1C1053.9 1160.4 1057.3 1147.7 1060.8 1135.0C1064.3 1122.3 1068.3 1109.7 1071.3 1097.0C1074.3 1084.3 1075.2 1075.3 1078.9 1059.0C1082.6 1042.7 1089.5 1017.4 1093.5 999.2C1097.5 981.0 1099.8 966.5 1103.0 950.0C1106.2 933.5 1110.3 913.4 1112.4 900.0C1114.5 886.6 1113.9 880.1 1115.5 869.8C1117.1 859.5 1119.8 848.7 1121.9 838.1C1124.0 827.5 1126.1 817.0 1128.2 806.4C1130.3 795.8 1132.5 785.3 1134.6 774.7C1136.7 764.1 1138.8 753.6 1140.9 743.0C1143.0 732.4 1145.1 720.1 1147.2 711.3C1149.3 702.5 1151.1 694.8 1153.6 690.2C1156.1 685.6 1158.8 683.8 1162.0 683.8C1165.2 683.8 1169.1 686.0 1172.6 690.2C1176.1 694.4 1180.0 702.2 1183.2 709.2C1186.4 716.2 1188.8 724.0 1191.6 732.4C1194.4 740.8 1197.3 751.1 1200.1 759.9C1202.9 768.7 1205.7 776.5 1208.5 785.3C1211.3 794.1 1214.9 806.1 1217.0 812.7C1219.1 819.3 1219.0 819.4 1221.0 825.0C1223.0 830.6 1226.1 838.3 1229.2 846.2C1232.3 854.1 1236.3 863.1 1239.8 872.6C1243.3 882.1 1246.9 893.1 1250.4 903.0C1253.9 912.9 1257.4 921.8 1260.9 932.1C1264.4 942.5 1268.0 954.1 1271.5 965.1C1275.0 976.1 1279.0 988.2 1282.1 998.1C1285.2 1008.0 1287.8 1016.7 1290.0 1024.5C1292.2 1032.3 1291.4 1028.3 1295.2 1045.0C1299.0 1061.7 1307.9 1097.2 1312.8 1124.5C1317.7 1151.8 1320.6 1177.2 1324.6 1209.0C1328.5 1240.8 1333.7 1291.2 1336.5 1315.5C1339.3 1339.8 1339.7 1333.8 1341.4 1355.0C1343.1 1376.2 1344.5 1412.4 1346.9 1442.4C1349.4 1472.4 1352.1 1503.3 1356.1 1534.8C1360.1 1566.3 1367.4 1610.4 1370.9 1631.3C1374.4 1652.2 1374.0 1651.2 1377.0 1660.0C1380.0 1668.8 1383.0 1676.4 1388.7 1683.8C1394.4 1691.2 1403.2 1697.3 1410.9 1704.4C1418.6 1711.5 1427.3 1719.2 1434.7 1726.6C1442.1 1734.0 1450.0 1741.3 1455.3 1748.7C1460.6 1756.1 1462.4 1763.2 1466.4 1770.9C1470.4 1778.6 1474.6 1785.5 1479.1 1794.7C1483.6 1804.0 1488.8 1815.8 1493.3 1826.4C1497.8 1837.0 1501.2 1848.8 1506.0 1858.1C1510.8 1867.3 1515.3 1875.3 1521.9 1881.9C1528.5 1888.5 1536.4 1893.5 1545.6 1897.7C1554.8 1901.9 1566.1 1904.8 1577.3 1907.2C1588.5 1909.6 1597.3 1911.2 1612.7 1912.0C1628.1 1912.8 1657.6 1911.3 1669.8 1911.8C1682.0 1912.3 1680.7 1912.9 1686.1 1915.1C1691.5 1917.3 1697.0 1921.9 1702.4 1924.9C1707.9 1927.9 1712.5 1930.2 1718.8 1933.1C1725.1 1935.9 1733.1 1939.6 1740.0 1942.0C1746.9 1944.4 1682.6 1946.6 1760.0 1947.5C1837.4 1948.4 2130.4 1947.5 2204.5 1947.5" stroke="#0072b2" stroke-width="6.9" fill="none" stroke-linejoin="round" stroke-linecap="butt" shape-rendering="crispEdges"/>
<path d="M365.0 1947.5C394.2 1947.5 507.5 1947.7 540.0 1947.5C572.5 1947.3 553.4 1947.7 560.0 1946.5C566.6 1945.3 573.3 1942.4 579.6 1940.3C585.9 1938.2 592.9 1935.4 598.0 1933.8C603.1 1932.2 606.3 1931.8 610.0 1930.8C613.7 1929.8 614.5 1929.1 620.0 1927.5C625.5 1925.9 637.6 1922.5 642.7 1921.0C647.8 1919.5 645.4 1919.8 650.8 1918.2C656.2 1916.6 666.8 1913.6 675.0 1911.5C683.2 1909.4 690.2 1907.2 699.8 1905.5C709.4 1903.8 722.4 1902.2 732.4 1901.0C742.4 1899.8 751.3 1899.2 760.0 1898.0C768.7 1896.8 776.3 1895.3 784.5 1893.9C792.7 1892.5 802.9 1891.0 809.0 1889.8C815.1 1888.6 817.8 1888.0 821.2 1886.5C824.6 1885.0 826.7 1883.1 829.4 1880.8C832.1 1878.5 834.9 1875.5 837.6 1872.7C840.3 1869.9 843.0 1867.1 845.7 1863.7C848.4 1860.3 851.2 1856.3 853.9 1852.2C856.6 1848.1 859.3 1843.8 862.0 1839.2C864.7 1834.6 867.5 1829.3 870.2 1824.5C872.9 1819.7 875.7 1814.9 878.4 1810.6C881.1 1806.2 883.8 1802.4 886.5 1798.4C889.2 1794.5 892.0 1790.5 894.7 1786.9C897.4 1783.4 899.5 1780.9 902.9 1777.1C906.3 1773.3 910.7 1769.6 915.1 1764.1C919.5 1758.6 922.8 1754.0 929.2 1744.0C935.7 1734.0 947.0 1715.6 953.8 1704.0C960.6 1692.4 966.2 1682.8 970.2 1674.6C974.2 1666.4 973.8 1665.7 977.8 1655.0C981.8 1644.3 989.4 1627.7 994.1 1610.4C998.8 1593.1 1002.5 1569.6 1005.9 1551.3C1009.3 1533.0 1010.5 1518.9 1014.4 1500.6C1018.3 1482.3 1024.8 1459.7 1029.6 1441.4C1034.4 1423.1 1039.1 1405.9 1043.1 1390.7C1047.1 1375.5 1050.1 1362.5 1053.5 1350.0C1056.9 1337.5 1058.3 1333.6 1063.3 1315.5C1068.3 1297.4 1077.5 1265.8 1083.7 1241.6C1089.9 1217.3 1094.0 1195.3 1100.5 1170.0C1107.0 1144.7 1116.0 1118.5 1123.0 1090.0C1130.0 1061.5 1138.1 1020.0 1142.6 999.2C1147.1 978.4 1148.1 976.3 1150.0 965.1C1151.9 953.9 1152.2 943.1 1154.0 932.1C1155.8 921.1 1158.4 910.0 1160.6 899.0C1162.8 888.0 1165.0 874.8 1167.2 866.0C1169.4 857.2 1171.6 852.8 1173.8 846.2C1176.0 839.6 1177.8 830.8 1180.4 826.4C1183.0 822.0 1184.8 820.9 1189.6 819.8C1194.4 818.7 1202.8 819.2 1209.4 819.8C1216.0 820.3 1222.6 821.9 1229.2 823.1C1235.8 824.3 1243.0 825.5 1249.0 827.1C1255.0 828.8 1260.5 830.9 1264.9 833.0C1269.3 835.1 1272.2 836.3 1275.5 839.6C1278.8 842.9 1281.9 847.7 1284.7 852.8C1287.5 857.9 1289.9 863.4 1292.6 870.0C1295.2 876.6 1298.2 885.4 1300.6 892.4C1303.0 899.4 1305.2 905.7 1307.2 912.3C1309.2 918.9 1310.7 925.5 1312.4 932.1C1314.2 938.7 1315.9 945.3 1317.7 951.9C1319.5 958.5 1321.0 964.0 1323.0 971.7C1325.0 979.4 1327.2 989.3 1329.6 998.1C1332.0 1006.9 1335.4 1016.7 1337.5 1024.5C1339.6 1032.3 1339.2 1028.3 1342.3 1045.0C1345.4 1061.7 1350.7 1097.2 1355.9 1124.5C1361.1 1151.8 1368.2 1177.2 1373.7 1209.0C1379.2 1240.8 1385.2 1291.2 1388.9 1315.5C1392.7 1339.8 1392.1 1333.8 1396.2 1355.0C1400.3 1376.2 1407.5 1412.4 1413.4 1442.4C1419.4 1472.4 1426.7 1503.3 1431.9 1534.8C1437.1 1566.3 1441.7 1610.4 1444.8 1631.3C1447.9 1652.2 1448.3 1649.9 1450.6 1660.0C1452.9 1670.1 1455.9 1681.1 1458.5 1691.7C1461.1 1702.3 1463.8 1712.8 1466.4 1723.4C1469.0 1734.0 1471.9 1745.1 1474.3 1755.1C1476.7 1765.1 1478.0 1776.2 1480.7 1783.6C1483.4 1791.0 1486.0 1795.0 1490.2 1799.5C1494.4 1804.0 1499.4 1806.9 1506.0 1810.6C1512.6 1814.3 1521.9 1817.6 1529.8 1821.6C1537.7 1825.5 1547.0 1830.1 1553.6 1834.3C1560.2 1838.5 1564.7 1843.0 1569.4 1847.0C1574.1 1851.0 1577.5 1852.9 1582.0 1858.0C1586.5 1863.1 1591.2 1871.1 1596.3 1877.6C1601.4 1884.1 1607.2 1891.9 1612.7 1897.1C1618.2 1902.3 1624.1 1906.1 1629.0 1908.6C1633.9 1911.0 1636.6 1912.6 1642.0 1911.8C1647.4 1911.0 1654.2 1908.0 1661.6 1903.7C1668.9 1899.4 1677.9 1890.1 1686.1 1885.7C1694.3 1881.3 1703.8 1877.9 1710.6 1877.6C1717.4 1877.3 1721.5 1879.8 1726.9 1884.1C1732.4 1888.4 1737.8 1896.6 1743.3 1903.7C1748.8 1910.8 1754.7 1920.5 1759.6 1926.5C1764.5 1932.5 1768.6 1936.6 1772.7 1939.6C1776.8 1942.6 1780.4 1943.2 1784.1 1944.5C1787.8 1945.8 1724.9 1947.0 1795.0 1947.5C1865.1 1948.0 2136.2 1947.5 2204.5 1947.5" stroke="#000000" stroke-width="6.9" fill="none" stroke-linejoin="round" stroke-linecap="butt" shape-rendering="crispEdges"/>
<path d="M365.0 1947.5C390.8 1947.4 490.3 1948.0 520.0 1947.0C549.7 1946.0 536.2 1943.2 543.0 1941.7C549.8 1940.2 554.8 1939.6 561.0 1938.0C567.2 1936.4 573.8 1934.0 580.0 1932.0C586.2 1930.0 591.3 1928.0 598.0 1925.7C604.7 1923.4 611.2 1920.3 620.0 1918.0C628.8 1915.7 643.0 1913.3 650.8 1912.0C658.6 1910.7 658.8 1910.3 667.0 1910.0C675.2 1909.7 691.8 1910.1 700.0 1910.0C708.2 1909.9 712.0 1910.0 716.0 1909.5C720.0 1909.0 721.6 1908.8 724.3 1907.0C727.0 1905.2 729.3 1901.7 732.0 1899.0C734.7 1896.3 737.8 1893.5 740.6 1890.8C743.4 1888.1 746.1 1885.2 748.8 1882.7C751.5 1880.2 753.5 1878.7 757.0 1876.0C760.5 1873.3 765.5 1870.1 770.0 1866.3C774.5 1862.5 779.0 1857.4 784.0 1853.0C789.0 1848.6 794.5 1844.2 800.0 1840.0C805.5 1835.8 811.5 1832.3 817.1 1827.8C822.7 1823.3 828.7 1817.6 833.5 1813.1C838.3 1808.6 842.3 1804.5 845.7 1800.8C849.1 1797.1 851.2 1795.1 853.9 1791.0C856.6 1786.9 860.0 1780.8 862.0 1776.3C864.0 1771.8 864.5 1771.5 866.1 1764.1C867.8 1756.7 869.6 1742.7 871.9 1731.9C874.2 1721.1 877.4 1710.0 880.1 1699.1C882.8 1688.2 885.1 1681.2 888.3 1666.4C891.5 1651.6 895.0 1629.6 899.4 1610.4C903.8 1591.2 910.1 1569.6 914.6 1551.3C919.1 1533.0 921.7 1518.9 926.5 1500.6C931.3 1482.3 938.5 1459.7 943.4 1441.4C948.3 1423.1 951.9 1405.9 956.0 1390.7C960.1 1375.5 964.8 1362.5 968.0 1350.0C971.2 1337.5 972.4 1329.5 975.2 1315.5C978.0 1301.5 981.7 1282.6 985.0 1266.0C988.3 1249.4 991.7 1232.7 995.0 1216.0C998.3 1199.3 1001.7 1182.7 1005.0 1166.0C1008.3 1149.3 1011.7 1132.7 1015.0 1116.0C1018.3 1099.3 1022.3 1078.7 1025.0 1066.0C1027.7 1053.3 1028.9 1051.1 1031.0 1040.0C1033.1 1028.9 1034.4 1016.2 1037.6 999.5C1040.8 982.8 1046.5 956.6 1050.0 940.0C1053.5 923.4 1055.7 913.5 1058.5 900.0C1061.3 886.5 1063.7 874.8 1066.9 859.2C1070.1 843.6 1074.3 824.0 1077.5 806.4C1080.7 788.8 1083.5 769.5 1086.0 753.6C1088.5 737.8 1090.2 723.6 1092.3 711.3C1094.4 699.0 1096.5 690.9 1098.6 679.6C1100.7 668.3 1102.9 654.3 1105.0 643.7C1107.1 633.1 1108.8 624.3 1111.3 616.2C1113.8 608.1 1116.6 599.7 1119.8 595.1C1123.0 590.5 1126.4 588.7 1130.3 588.7C1134.2 588.7 1139.1 591.6 1143.0 595.1C1146.9 598.6 1150.1 603.9 1153.6 609.9C1157.1 615.9 1160.6 623.2 1164.1 631.0C1167.6 638.8 1171.2 647.2 1174.7 656.4C1178.2 665.6 1181.8 675.1 1185.3 686.0C1188.8 696.9 1192.6 710.6 1195.8 721.9C1199.0 733.2 1201.5 740.6 1204.3 753.6C1207.1 766.6 1210.5 787.9 1212.7 800.0C1214.9 812.1 1216.0 815.4 1217.4 826.4C1218.8 837.4 1220.0 852.8 1221.3 866.0C1222.6 879.2 1224.0 892.5 1225.3 905.7C1226.6 918.9 1227.7 932.1 1229.2 945.3C1230.7 958.5 1232.5 972.8 1234.5 984.9C1236.5 997.0 1239.3 1007.0 1241.1 1017.9C1242.9 1028.8 1243.7 1032.2 1245.1 1050.0C1246.5 1067.8 1246.9 1098.0 1249.4 1124.5C1252.0 1151.0 1256.0 1177.2 1260.4 1209.0C1264.8 1240.8 1272.6 1293.7 1275.6 1315.5C1278.6 1337.3 1276.1 1321.1 1278.5 1340.0C1280.9 1358.9 1286.0 1401.7 1289.8 1428.8C1293.6 1455.9 1297.7 1480.5 1301.6 1502.7C1305.5 1524.9 1310.0 1544.6 1313.4 1561.9C1316.9 1579.2 1319.9 1594.1 1322.3 1606.3C1324.7 1618.5 1325.6 1626.0 1328.0 1635.0C1330.4 1644.0 1333.2 1651.9 1336.5 1660.0C1339.8 1668.1 1343.0 1676.4 1347.5 1683.8C1352.0 1691.2 1358.1 1697.8 1363.4 1704.4C1368.7 1711.0 1373.9 1717.1 1379.2 1723.4C1384.5 1729.7 1389.8 1735.0 1395.1 1742.4C1400.4 1749.8 1405.6 1758.3 1410.9 1767.8C1416.2 1777.3 1421.5 1788.4 1426.8 1799.5C1432.1 1810.6 1437.3 1822.4 1442.6 1834.3C1447.9 1846.2 1453.2 1860.8 1458.5 1870.8C1463.8 1880.8 1467.7 1889.3 1474.3 1894.6C1480.9 1899.9 1488.8 1899.9 1498.1 1902.5C1507.3 1905.1 1517.9 1908.3 1529.8 1910.4C1541.7 1912.5 1557.7 1914.1 1569.4 1915.2C1581.1 1916.3 1591.9 1915.2 1600.0 1917.0C1608.1 1918.8 1611.8 1922.8 1618.0 1926.0C1624.2 1929.2 1631.1 1933.2 1637.0 1936.3C1642.9 1939.4 1648.8 1942.6 1653.5 1944.5C1658.2 1946.4 1573.2 1947.0 1665.0 1947.5C1756.8 1948.0 2114.6 1947.5 2204.5 1947.5" stroke="#9400d3" stroke-width="6.9" fill="none" stroke-linejoin="round" stroke-linecap="butt" shape-rendering="crispEdges"/>
<path d="M365.0 1947.5C379.2 1947.2 424.2 1947.2 450.0 1946.0C475.8 1944.8 501.7 1942.8 520.0 1940.0C538.3 1937.2 549.4 1932.3 560.0 1929.0C570.6 1925.7 577.5 1922.9 583.7 1919.9C589.9 1916.9 592.1 1913.0 597.1 1910.9C602.1 1908.9 609.3 1907.8 614.0 1907.6C618.7 1907.4 621.5 1907.6 625.2 1909.8C628.9 1912.0 632.6 1918.0 636.4 1921.0C640.1 1924.0 643.8 1926.5 647.7 1927.8C651.6 1929.1 654.1 1929.3 660.0 1928.9C665.9 1928.5 676.6 1927.5 682.8 1925.5C689.0 1923.5 691.6 1921.2 697.0 1917.0C702.4 1912.8 708.7 1905.8 715.0 1900.0C721.3 1894.2 728.3 1887.7 735.0 1882.0C741.7 1876.3 749.2 1871.7 755.0 1866.0C760.8 1860.3 765.1 1853.4 770.0 1848.0C774.9 1842.6 779.4 1838.9 784.5 1833.5C789.6 1828.1 795.4 1821.6 800.8 1815.5C806.2 1809.4 812.3 1801.9 817.1 1796.7C821.9 1791.5 826.0 1788.6 829.4 1784.5C832.8 1780.4 835.1 1776.8 837.6 1772.2C840.1 1767.6 841.2 1765.1 844.5 1757.0C847.8 1748.9 852.6 1734.7 857.2 1723.7C861.8 1712.7 866.7 1701.8 871.9 1690.9C877.1 1680.0 884.3 1665.9 888.3 1658.2C892.3 1650.5 892.2 1653.0 896.0 1645.0C899.8 1637.0 905.1 1626.0 911.3 1610.4C917.5 1594.8 927.0 1569.6 933.2 1551.3C939.4 1533.0 942.8 1518.9 948.4 1500.6C954.0 1482.3 960.2 1459.7 967.0 1441.4C973.8 1423.1 982.8 1404.5 989.0 1390.7C995.2 1376.9 999.7 1367.5 1004.0 1358.6C1008.3 1349.7 1011.4 1344.6 1014.6 1337.4C1017.8 1330.2 1019.9 1323.4 1023.0 1315.5C1026.1 1307.6 1029.2 1300.3 1033.0 1290.0C1036.8 1279.7 1042.0 1265.2 1045.8 1253.5C1049.6 1241.8 1053.0 1231.8 1056.0 1220.0C1059.0 1208.2 1061.2 1195.2 1063.7 1182.6C1066.2 1170.0 1068.6 1157.3 1071.3 1144.6C1074.0 1131.9 1076.4 1124.0 1079.8 1106.5C1083.2 1089.0 1088.5 1056.1 1091.5 1039.7C1094.5 1023.3 1095.7 1018.6 1097.8 1008.0C1099.9 997.4 1101.8 986.8 1104.1 976.2C1106.4 965.6 1108.8 955.9 1111.5 944.5C1114.2 933.1 1117.3 916.8 1120.0 907.6C1122.7 898.5 1124.6 894.1 1127.4 889.6C1130.2 885.1 1133.0 881.0 1137.0 880.5C1141.0 880.0 1147.1 883.6 1151.5 886.7C1155.9 889.8 1159.0 894.7 1163.2 899.0C1167.4 903.3 1172.0 906.8 1176.4 912.3C1180.8 917.8 1185.2 925.5 1189.6 932.1C1194.0 938.7 1198.8 945.3 1202.8 951.9C1206.8 958.5 1209.9 965.1 1213.4 971.7C1216.9 978.3 1220.5 984.3 1224.0 991.5C1227.5 998.7 1231.4 1007.8 1234.5 1015.0C1237.6 1022.2 1239.7 1029.2 1242.4 1035.0C1245.1 1040.8 1247.9 1042.8 1250.8 1050.0C1253.7 1057.2 1256.3 1066.8 1259.9 1078.1C1263.5 1089.4 1268.4 1104.5 1272.6 1117.7C1276.8 1130.9 1281.8 1146.9 1285.3 1157.3C1288.8 1167.7 1290.6 1171.4 1293.5 1180.0C1296.4 1188.6 1297.0 1186.4 1302.7 1209.0C1308.5 1231.6 1322.7 1292.0 1328.0 1315.5C1333.3 1339.0 1329.8 1328.8 1334.5 1350.0C1339.2 1371.2 1348.5 1411.6 1356.1 1442.4C1363.7 1473.2 1371.2 1503.3 1380.1 1534.8C1389.0 1566.3 1403.0 1609.9 1409.7 1631.3C1416.4 1652.7 1416.2 1651.5 1420.0 1663.0C1423.8 1674.5 1429.5 1692.2 1432.8 1700.0C1436.1 1707.8 1437.0 1705.6 1440.0 1710.0C1443.0 1714.4 1446.2 1721.7 1450.6 1726.6C1455.0 1731.5 1459.8 1735.5 1466.4 1739.2C1473.0 1742.9 1483.6 1746.1 1490.2 1748.7C1496.8 1751.3 1500.7 1752.7 1506.0 1755.1C1511.3 1757.5 1517.2 1759.6 1521.9 1763.0C1526.7 1766.4 1530.5 1770.4 1534.5 1775.7C1538.5 1781.0 1541.9 1787.6 1545.6 1794.7C1549.3 1801.8 1552.7 1810.6 1556.7 1818.5C1560.7 1826.4 1565.4 1834.6 1569.4 1842.3C1573.5 1850.0 1576.5 1855.9 1581.0 1864.5C1585.5 1873.1 1591.0 1886.8 1596.3 1893.9C1601.6 1901.0 1607.2 1903.4 1612.7 1906.9C1618.2 1910.4 1623.6 1912.6 1629.0 1915.1C1634.4 1917.5 1637.1 1918.6 1645.3 1921.6C1653.5 1924.6 1667.1 1929.8 1678.0 1933.1C1688.9 1936.4 1698.6 1939.0 1710.6 1941.2C1722.6 1943.4 1738.4 1945.0 1750.0 1946.0C1761.6 1947.0 1733.3 1947.2 1780.0 1947.5C1826.7 1947.8 1985.8 1947.8 2030.0 1947.5C2074.2 1947.2 2039.2 1946.9 2045.0 1945.5C2050.8 1944.1 2058.4 1940.5 2065.0 1939.0C2071.6 1937.5 2078.0 1936.5 2084.7 1936.4C2091.4 1936.3 2097.4 1937.4 2105.0 1938.5C2112.6 1939.6 2122.4 1941.7 2130.0 1943.0C2137.6 1944.3 2144.8 1945.8 2150.6 1946.5C2156.4 1947.2 2156.0 1947.3 2165.0 1947.5C2174.0 1947.7 2197.9 1947.5 2204.5 1947.5" stroke="#009e73" stroke-width="6.9" fill="none" stroke-linejoin="round" stroke-linecap="butt" shape-rendering="crispEdges"/>
<path d="M365.0 1947.9C370.8 1947.7 387.2 1947.2 400.0 1946.8C412.8 1946.4 428.3 1946.1 441.6 1945.5C454.9 1944.9 470.3 1944.0 480.0 1943.3C489.7 1942.5 493.3 1941.7 500.0 1941.0C506.7 1940.3 513.2 1940.3 520.0 1939.4C526.8 1938.5 534.1 1937.0 541.0 1935.6C547.9 1934.1 553.0 1932.7 561.2 1930.7C569.4 1928.7 581.9 1925.7 590.0 1923.5C598.1 1921.3 605.0 1919.1 610.0 1917.8C615.0 1916.5 613.2 1917.6 620.0 1915.8C626.8 1914.0 638.9 1910.8 650.8 1907.1C662.7 1903.3 678.0 1898.3 691.6 1893.3C705.2 1888.3 721.0 1881.7 732.4 1877.3C743.8 1872.9 752.7 1870.5 760.0 1866.9C767.3 1863.3 770.8 1859.7 776.3 1855.5C781.8 1851.3 787.2 1846.6 792.7 1841.6C798.2 1836.6 803.6 1831.3 809.0 1825.3C814.4 1819.3 821.2 1811.1 825.3 1805.7C829.4 1800.3 830.8 1797.6 833.5 1792.7C836.2 1787.8 839.1 1781.8 841.6 1776.3C844.1 1770.8 846.1 1766.4 848.2 1760.0C850.3 1753.6 852.0 1745.4 854.0 1738.0C856.0 1730.6 857.8 1724.7 860.5 1715.5C863.2 1706.3 867.4 1692.0 870.3 1682.7C873.2 1673.5 874.5 1672.0 878.0 1660.0C881.5 1648.0 886.6 1628.5 891.0 1610.4C895.4 1592.3 900.0 1569.6 904.5 1551.3C909.0 1533.0 913.3 1518.3 918.0 1500.6C922.7 1482.9 928.0 1461.8 932.5 1445.0C937.0 1428.2 941.4 1414.4 945.3 1400.0C949.2 1385.6 952.2 1372.7 955.9 1358.6C959.6 1344.5 963.0 1333.1 967.5 1315.5C972.0 1297.9 978.8 1268.8 982.9 1252.9C987.0 1237.0 989.4 1230.1 992.4 1220.0C995.4 1209.9 997.7 1203.1 1000.9 1192.1C1004.1 1181.1 1007.8 1166.8 1011.4 1154.1C1015.0 1141.4 1018.8 1128.7 1022.8 1116.0C1026.8 1103.3 1032.4 1087.3 1035.6 1078.0C1038.8 1068.7 1037.1 1073.1 1041.8 1060.0C1046.5 1046.9 1058.2 1015.2 1064.0 999.5C1069.8 983.8 1071.2 978.4 1076.7 965.7C1082.2 953.0 1090.6 935.7 1096.7 923.4C1102.8 911.1 1108.9 899.6 1113.6 891.7C1118.2 883.8 1120.9 881.3 1124.6 876.0C1128.3 870.7 1132.0 864.8 1135.8 860.0C1139.6 855.2 1143.4 850.2 1147.2 847.0C1151.0 843.8 1155.0 841.4 1158.5 841.0C1162.0 840.6 1165.4 842.1 1168.4 844.4C1171.5 846.7 1174.0 850.4 1176.8 855.0C1179.6 859.6 1182.7 866.2 1185.3 872.0C1187.9 877.8 1189.8 883.1 1192.3 889.8C1194.8 896.5 1197.8 905.2 1200.2 912.3C1202.6 919.3 1204.6 924.4 1206.8 932.1C1209.0 939.8 1211.2 949.7 1213.4 958.5C1215.6 967.3 1217.8 976.1 1220.0 984.9C1222.2 993.7 1224.2 1002.5 1226.6 1011.3C1229.0 1020.1 1232.6 1031.2 1234.5 1037.7C1236.4 1044.2 1233.4 1035.5 1238.0 1050.0C1242.6 1064.5 1255.0 1098.0 1262.1 1124.5C1269.2 1151.0 1273.4 1177.2 1280.7 1209.0C1288.0 1240.8 1300.2 1291.2 1306.1 1315.5C1311.9 1339.8 1310.5 1333.8 1315.8 1355.0C1321.0 1376.2 1330.6 1412.4 1337.6 1442.4C1344.6 1472.4 1350.6 1503.3 1358.0 1534.8C1365.4 1566.3 1376.6 1610.4 1382.0 1631.3C1387.4 1652.2 1386.7 1648.5 1390.3 1660.0C1393.9 1671.5 1398.7 1686.8 1403.5 1700.0C1408.3 1713.2 1413.7 1727.4 1418.9 1739.2C1424.1 1751.0 1429.4 1760.3 1434.7 1770.9C1440.0 1781.5 1445.3 1792.8 1450.6 1802.6C1455.9 1812.4 1461.1 1821.7 1466.4 1829.6C1471.7 1837.5 1475.7 1842.8 1482.3 1850.2C1488.9 1857.6 1498.1 1867.0 1506.0 1873.9C1513.9 1880.8 1521.9 1886.4 1529.8 1891.4C1537.7 1896.4 1545.6 1900.3 1553.6 1904.0C1561.6 1907.7 1565.4 1910.3 1578.0 1913.5C1590.6 1916.7 1612.3 1920.5 1629.0 1923.3C1645.7 1926.1 1666.2 1928.5 1678.0 1930.5C1689.8 1932.5 1687.8 1933.4 1700.0 1935.5C1712.2 1937.6 1734.0 1941.1 1751.0 1943.0C1768.0 1944.9 1785.0 1946.2 1802.0 1947.0C1819.0 1947.8 1828.3 1947.5 1853.0 1947.6C1877.7 1947.7 1908.8 1947.6 1950.0 1947.6C1991.2 1947.6 2057.6 1947.8 2100.0 1947.8C2142.4 1947.8 2187.1 1947.8 2204.5 1947.8" stroke="#0000ff" stroke-width="12.1" fill="none" stroke-linejoin="round" stroke-linecap="butt" shape-rendering="crispEdges"/>
<rect x="1443.5" y="51.5" width="761.0" height="788.0" fill="#fff"/>
<path d="M1903.1 116.5H2113" stroke="#56b4e9" stroke-width="6.9"/>
<text x="1857" y="141.5" text-anchor="end" class="t">B2</text>
<path d="M1903.1 192.7H2113" stroke="#009e73" stroke-width="6.9"/>
<text x="1857" y="217.7" text-anchor="end" class="t">B3</text>
<path d="M1903.1 268.8H2113" stroke="#e51e10" stroke-width="6.9"/>
<text x="1857" y="293.8" text-anchor="end" class="t">B4</text>
<path d="M1903.1 345.0H2113" stroke="#9400d3" stroke-width="6.9"/>
<text x="1857" y="370.0" text-anchor="end" class="t">B5</text>
<path d="M1903.1 421.1H2113" stroke="#f0e442" stroke-width="10.1"/>
<text x="1857" y="446.1" text-anchor="end" class="t">B6</text>
<path d="M1903.1 497.3H2113" stroke="#0072b2" stroke-width="6.9"/>
<text x="1857" y="522.3" text-anchor="end" class="t">B7</text>
<path d="M1903.1 573.5H2113" stroke="#000000" stroke-width="6.9"/>
<text x="1857" y="598.5" text-anchor="end" class="t">B8</text>
<path d="M1903.1 649.6H2113" stroke="#9400d3" stroke-width="6.9"/>
<text x="1857" y="674.6" text-anchor="end" class="t">B8A</text>
<path d="M1903.1 725.8H2113" stroke="#009e73" stroke-width="6.9"/>
<text x="1857" y="750.8" text-anchor="end" class="t">B11</text>
<path d="M1903.1 801.9H2113" stroke="#0000ff" stroke-width="12.1"/>
<text x="1857" y="826.9" text-anchor="end" class="t">All bands</text>
<path d="M448.9 1947.5v-27.5M448.9 51.5v27.5M800.1 1947.5v-27.5M800.1 51.5v27.5M1151.2 1947.5v-27.5M1151.2 51.5v27.5M1502.3 1947.5v-27.5M1502.3 51.5v27.5M1853.4 1947.5v-27.5M1853.4 51.5v27.5M308.5 1631.5h27.5M2204.5 1631.5h-27.5M308.5 1315.5h27.5M2204.5 1315.5h-27.5M308.5 999.5h27.5M2204.5 999.5h-27.5M308.5 683.5h27.5M2204.5 683.5h-27.5M308.5 367.5h27.5M2204.5 367.5h-27.5" stroke="#000" stroke-width="3.3"/>
<rect x="308.5" y="51.5" width="1896.0" height="1896.0" stroke="#000" stroke-width="5" fill="none"/>
<text x="264.3" y="1972.7" text-anchor="end" class="t">0.0</text>
<text x="261" y="1656.7" text-anchor="end" class="t">0.5</text>
<text x="264.3" y="1340.7" text-anchor="end" class="t">1.0</text>
<text x="261" y="1024.7" text-anchor="end" class="t">1.5</text>
<text x="264.3" y="708.7" text-anchor="end" class="t">2.0</text>
<text x="261" y="392.7" text-anchor="end" class="t">2.5</text>
<text x="264.3" y="76.7" text-anchor="end" class="t">3.0</text>
<text x="449.3" y="2049" text-anchor="middle" class="t">-100</text>
<text x="800.5" y="2049" text-anchor="middle" class="t">-50</text>
<text x="1161.0" y="2049" text-anchor="middle" class="t">0</text>
<text x="1512.1" y="2049" text-anchor="middle" class="t">50</text>
<text x="1863.2" y="2049" text-anchor="middle" class="t">100</text>
<text x="2214.3" y="2049" text-anchor="middle" class="t">150</text>
<text x="1256" y="2165" text-anchor="middle" class="t">Relative error, percents</text>
<text transform="translate(76.5 1001.2) rotate(-90)" text-anchor="middle" class="t">Distribution density</text>
</svg>
</body></html>
